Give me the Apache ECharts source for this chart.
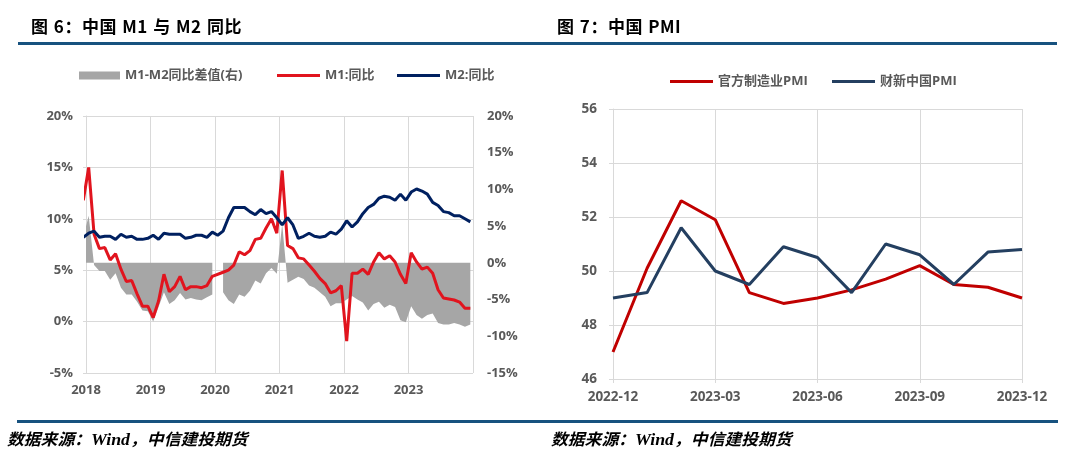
<!DOCTYPE html>
<html><head><meta charset="utf-8">
<script src="https://cdn.jsdelivr.net/npm/echarts@6/dist/echarts.min.js"></script>
<style>
html,body{margin:0;padding:0;background:#fff;width:1080px;height:457px;overflow:hidden}
#c{position:absolute;left:0;top:0;width:1080px;height:457px}
.rule{position:absolute;background:#17527f}
.ttl{position:absolute;top:14px;font-family:'Noto Sans CJK SC',sans-serif;font-weight:bold;font-size:17px;line-height:24px;color:#000;letter-spacing:0.5px;word-spacing:1px;white-space:pre}
.src{position:absolute;top:427px;font-family:'Noto Sans CJK SC',sans-serif;font-weight:bold;font-style:italic;font-size:16px;line-height:22px;color:#000;white-space:pre;transform:scaleX(1.05);transform-origin:left center}
.src i{font-family:'Liberation Serif',serif;font-size:17px}
</style></head>
<body>
<div id="c"></div>
<div class="rule" style="left:18px;top:42px;width:1039px;height:3px"></div>
<div class="rule" style="left:17px;top:420px;width:1041px;height:3px"></div>
<div class="ttl" style="left:31px">图 6：中国 M1 与 M2 同比</div>
<div class="ttl" style="left:557px">图 7：中国 PMI</div>
<div class="src" style="left:7px">数据来源：<i>Wind</i>，中信建投期货</div>
<div class="src" style="left:551px">数据来源：<i>Wind</i>，中信建投期货</div>
<script>
// ---------- Figure 6 data (monthly, 2017-12 .. 2023-12) ----------
const startYear = 2017, startMonth = 12;
const months = [];
for (let k = 0; k < 73; k++) {
  const m0 = startMonth - 1 + k;
  const y = startYear + Math.floor(m0 / 12), m = (m0 % 12) + 1;
  months.push(y + '-' + (m < 10 ? '0' + m : m));
}
const m1 = [11.8,
  15.0, 8.5, 7.1, 7.2, 6.0, 6.6, 5.1, 3.9, 4.0, 2.7, 1.5, 1.5,
  0.4, 2.0, 4.6, 2.9, 3.4, 4.4, 3.1, 3.4, 3.4, 3.3, 3.5, 4.4,
  null, 4.8, 5.0, 5.5, 6.8, 6.5, 6.9, 8.0, 8.1, 9.1, 10.0, 8.6,
  14.7, 7.4, 7.1, 6.2, 6.1, 5.5, 4.9, 4.2, 3.7, 2.8, 3.0, 3.5,
  -1.9, 4.7, 4.7, 5.1, 4.6, 5.8, 6.7, 6.1, 6.4, 5.8, 4.6, 3.7,
  6.7, 5.8, 5.1, 5.3, 4.7, 3.1, 2.3, 2.2, 2.1, 1.9, 1.3, 1.3];
const m2 = [8.2,
  8.6, 8.8, 8.2, 8.3, 8.3, 8.0, 8.5, 8.2, 8.3, 8.0, 8.0, 8.1,
  8.4, 8.0, 8.6, 8.5, 8.5, 8.5, 8.1, 8.2, 8.4, 8.4, 8.2, 8.7,
  8.4, 8.8, 10.1, 11.1, 11.1, 11.1, 10.7, 10.4, 10.9, 10.5, 10.7, 10.1,
  9.4, 10.1, 9.4, 8.1, 8.3, 8.6, 8.3, 8.2, 8.3, 8.7, 8.5, 9.0,
  9.8, 9.2, 9.7, 10.5, 11.1, 11.4, 12.0, 12.2, 12.1, 11.8, 12.4, 11.8,
  12.6, 12.9, 12.7, 12.4, 11.6, 11.3, 10.7, 10.6, 10.3, 10.3, 10.0, 9.7];
const diff = [3.6,
  6.4, -0.3, -1.1, -1.1, -2.3, -1.4, -3.4, -4.3, -4.3, -5.3, -6.5, -6.6,
  -8.0, -6.0, -4.0, -5.6, -5.1, -4.1, -5.0, -4.8, -5.0, -5.1, -4.7, -4.3,
  null, -4.0, -5.1, -5.6, -4.3, -4.6, -3.8, -2.4, -2.8, -1.4, -0.7, -1.5,
  5.3, -2.7, -2.3, -1.9, -2.2, -3.1, -3.4, -4.0, -4.6, -5.9, -5.5, -5.5,
  -5.0, -4.5, -5.0, -5.4, -6.5, -5.6, -5.3, -6.1, -5.7, -6.0, -7.8, -8.1,
  -5.9, -7.1, -7.6, -7.1, -6.9, -8.2, -8.4, -8.4, -8.2, -8.4, -8.7, -8.4];
const leftTicks = [-5, 0, 5, 10, 15, 20];
const rightTicks = [-15, -10, -5, 0, 5, 10, 15, 20];
const yearLabels = ['2018', '2019', '2020', '2021', '2022', '2023'];

// ---------- Figure 7 data ----------
const pmiMonths = ['2022-12','2023-01','2023-02','2023-03','2023-04','2023-05','2023-06',
  '2023-07','2023-08','2023-09','2023-10','2023-11','2023-12'];
const officialPMI = [47.0, 50.1, 52.6, 51.9, 49.2, 48.8, 49.0, 49.3, 49.7, 50.2, 49.5, 49.4, 49.0];
const caixinPMI   = [49.0, 49.2, 51.6, 50.0, 49.5, 50.9, 50.5, 49.2, 51.0, 50.6, 49.5, 50.7, 50.8];

// month position on a continuous axis: months since 2018-01 start, centred in the month
function monthPos(label) {
  const [y, m] = label.split('-').map(Number);
  return (y - 2018) * 12 + (m - 1) + 0.5;
}
function pairs(arr) {
  return arr.map((v, i) => [monthPos(months[i]), v == null ? '-' : v]);
}

const FONT = "'Open Sans','Noto Sans CJK SC',sans-serif";
const GRID = '#d9d9d9';
const lab = { color: '#595959', fontWeight: 'bold', fontSize: 13, fontFamily: FONT };
const legText = { color: '#595959', fontWeight: 'bold', fontSize: 13, fontFamily: FONT };

const chart = echarts.init(document.getElementById('c'), null, { renderer: 'canvas' });
const option = {
  animation: false,
  backgroundColor: 'transparent',
  legend: [
    { data: [{ name: 'M1-M2同比差值(右)', icon: 'rect' }], left: 79, top: 69, padding: 0, itemWidth: 41, itemHeight: 8, selectedMode: false, textStyle: legText },
    { data: [{ name: 'M1:同比', icon: 'rect' }], left: 277, top: 69, padding: 0, itemWidth: 43, itemHeight: 3, selectedMode: false, textStyle: legText },
    { data: [{ name: 'M2:同比', icon: 'rect' }], left: 397, top: 69, padding: 0, itemWidth: 43, itemHeight: 3, selectedMode: false, textStyle: legText },
    { data: [{ name: '官方制造业PMI', icon: 'rect' }], left: 670, top: 75, padding: 0, itemWidth: 43, itemHeight: 3, selectedMode: false, textStyle: legText },
    { data: [{ name: '财新中国PMI', icon: 'rect' }], left: 832, top: 75, padding: 0, itemWidth: 43, itemHeight: 3, selectedMode: false, textStyle: legText }
  ],
  grid: [
    { left: 86, top: 116, width: 387, height: 257, containLabel: false },
    { left: 613, top: 109, width: 409, height: 270, containLabel: false }
  ],
  xAxis: [
    { type: 'value', gridIndex: 0, min: 0, max: 72, interval: 12,
      axisLine: { show: true, lineStyle: { color: GRID, width: 1 } },
      axisTick: { show: true, length: 5, lineStyle: { color: GRID } },
      splitLine: { show: true, lineStyle: { color: GRID, width: 1 } },
      axisLabel: Object.assign({ margin: 11, formatter: v => yearLabels[v / 12] || '' }, lab) },
    { type: 'category', gridIndex: 1, data: pmiMonths, boundaryGap: false,
      axisLine: { show: true, lineStyle: { color: GRID, width: 1 } },
      axisTick: { show: true, length: 4, interval: 2, lineStyle: { color: GRID } },
      splitLine: { show: true, interval: 2, lineStyle: { color: GRID, width: 1 } },
      axisLabel: Object.assign({ margin: 11, interval: 2 }, lab, { fontSize: 13.5 }) }
  ],
  yAxis: [
    { type: 'value', gridIndex: 0, min: leftTicks[0], max: leftTicks[leftTicks.length - 1], interval: 5,
      axisLine: { show: true, lineStyle: { color: GRID } },
      axisTick: { show: true, length: 3, lineStyle: { color: GRID } },
      splitLine: { show: true, lineStyle: { color: GRID, width: 1 } },
      axisLabel: Object.assign({ margin: 13, formatter: '{value}%' }, lab) },
    { type: 'value', gridIndex: 0, position: 'right', min: rightTicks[0], max: rightTicks[rightTicks.length - 1], interval: 5,
      axisLine: { show: false }, axisTick: { show: false }, splitLine: { show: false },
      axisLabel: Object.assign({ margin: 14, formatter: '{value}%' }, lab) },
    { type: 'value', gridIndex: 1, min: 46, max: 56, interval: 2,
      axisLine: { show: true, lineStyle: { color: GRID } },
      axisTick: { show: true, length: 4, lineStyle: { color: GRID } },
      splitLine: { show: true, lineStyle: { color: GRID, width: 1 } },
      axisLabel: Object.assign({ margin: 16 }, lab, { fontSize: 13.5 }) }
  ],
  series: [
    { name: 'M1-M2同比差值(右)', type: 'line', xAxisIndex: 0, yAxisIndex: 1, data: pairs(diff),
      symbol: 'none', connectNulls: false, clip: true, color: '#a6a6a6',
      lineStyle: { width: 0, color: '#a6a6a6' }, areaStyle: { color: '#a6a6a6', opacity: 1 } },
    { name: 'M1:同比', type: 'line', xAxisIndex: 0, yAxisIndex: 0, data: pairs(m1),
      symbol: 'none', connectNulls: true, clip: true, color: '#e1141e',
      lineStyle: { width: 3, color: '#e1141e' } },
    { name: 'M2:同比', type: 'line', xAxisIndex: 0, yAxisIndex: 0, data: pairs(m2),
      symbol: 'none', connectNulls: true, clip: true, color: '#002060',
      lineStyle: { width: 3, color: '#002060' } },
    { name: '官方制造业PMI', type: 'line', xAxisIndex: 1, yAxisIndex: 2, data: officialPMI,
      symbol: 'none', color: '#c00000', lineStyle: { width: 3, color: '#c00000' } },
    { name: '财新中国PMI', type: 'line', xAxisIndex: 1, yAxisIndex: 2, data: caixinPMI,
      symbol: 'none', color: '#243f60', lineStyle: { width: 3, color: '#243f60' } }
  ]
};
chart.setOption(option);
</script>
</body></html>
